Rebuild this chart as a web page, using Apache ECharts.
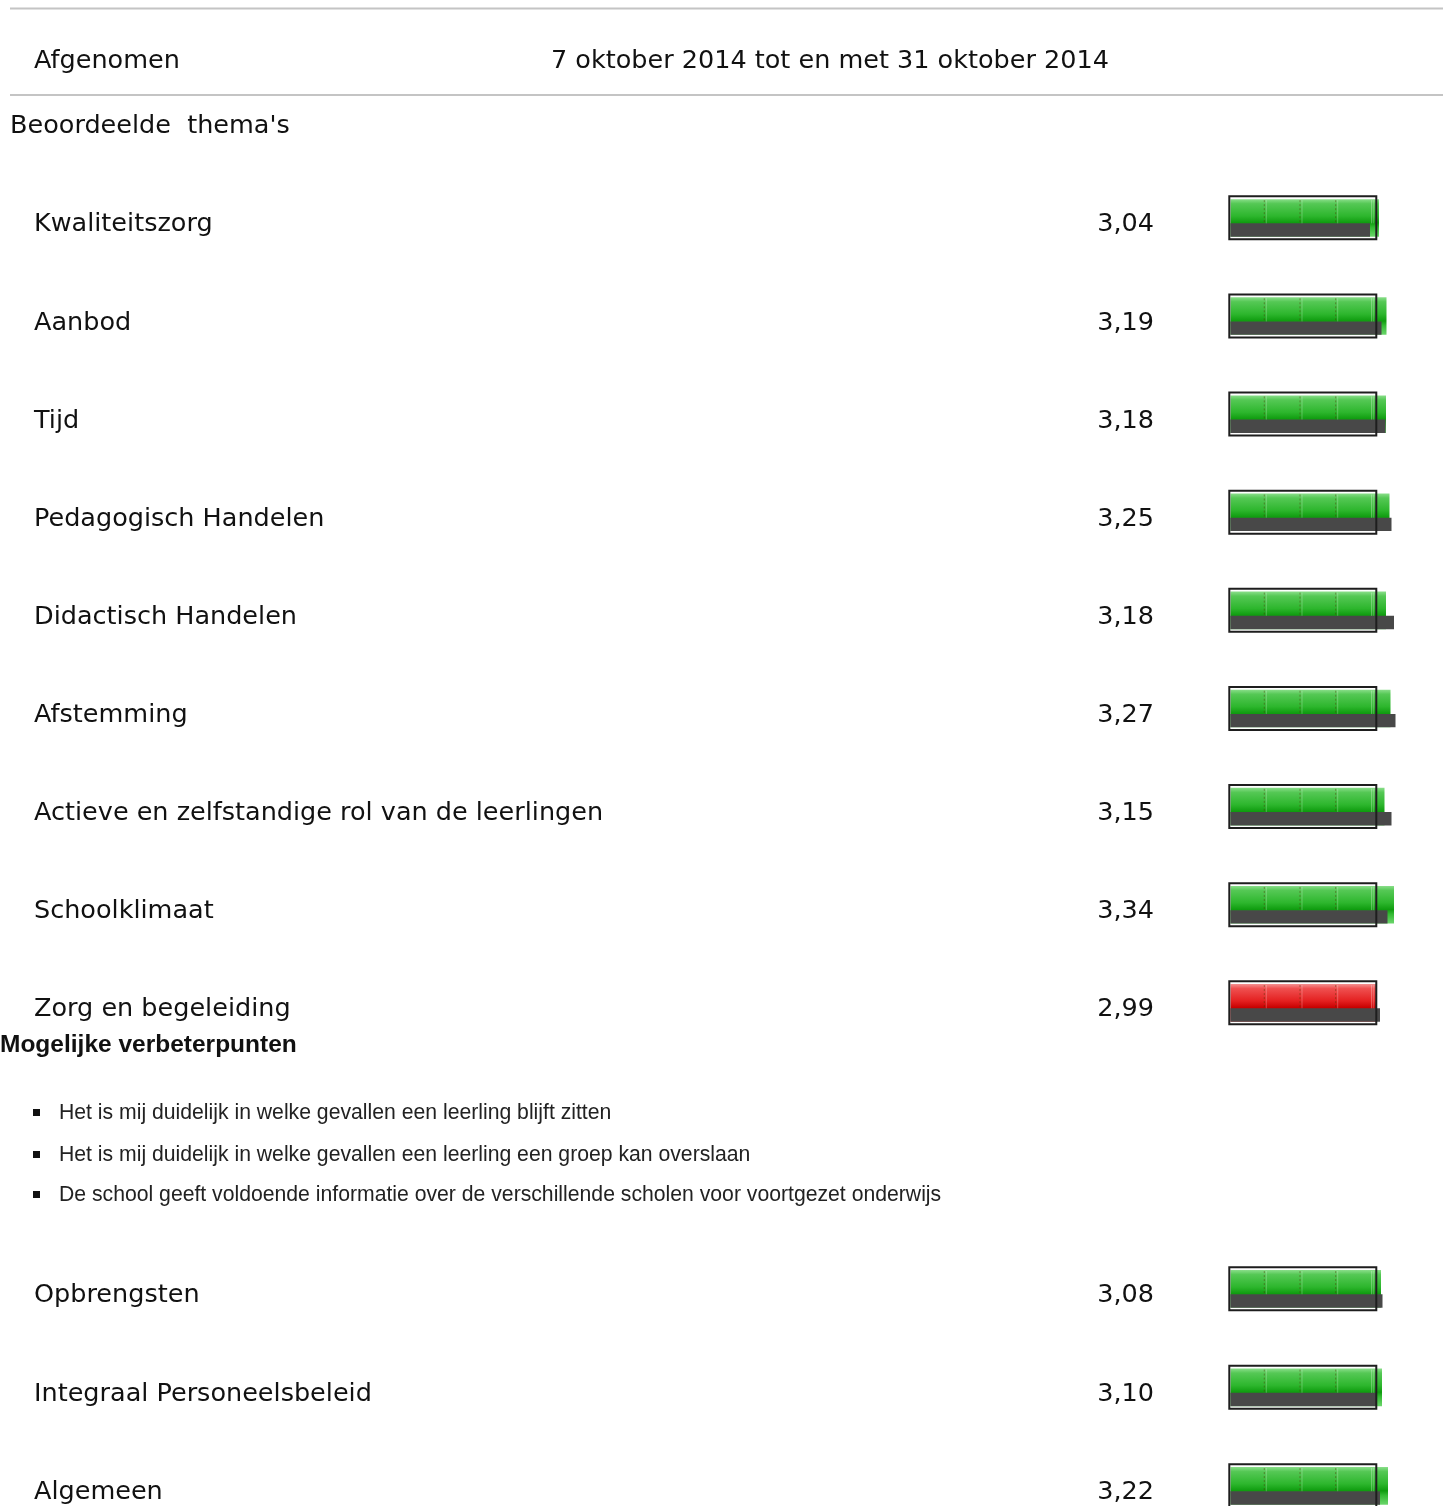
<!DOCTYPE html>
<html><head><meta charset="utf-8">
<script src="https://cdn.jsdelivr.net/npm/echarts@6/dist/echarts.min.js"></script>
<style>html,body{margin:0;padding:0;background:#fff}#c{width:1451px;height:1506px}</style>
</head><body><div id="c"></div>
<script>
// ---- data ----
const themesTop = ['Kwaliteitszorg','Aanbod','Tijd','Pedagogisch Handelen','Didactisch Handelen','Afstemming','Actieve en zelfstandige rol van de leerlingen','Schoolklimaat','Zorg en begeleiding'];
const scoresTop = [3.04,3.19,3.18,3.25,3.18,3.27,3.15,3.34,2.99];
const benchmarkTop = [2.86,3.09,3.17,3.29,3.34,3.37,3.29,3.21,3.06];
const themesBottom = ['Opbrengsten','Integraal Personeelsbeleid','Algemeen'];
const scoresBottom = [3.08,3.10,3.22];
const benchmarkBottom = [3.11,2.99,3.06];
const improvementPoints = [
  'Het is mij duidelijk in welke gevallen een leerling blijft zitten',
  'Het is mij duidelijk in welke gevallen een leerling een groep kan overslaan',
  'De school geeft voldoende informatie over de verschillende scholen voor voortgezet onderwijs'
];
const headerLabel = 'Afgenomen';
const headerPeriod = '7 oktober 2014 tot en met 31 oktober 2014';
const sectionTitle = "Beoordeelde  thema's";
const improvementTitle = 'Mogelijke verbeterpunten';
const frameMax = 3;
const redThreshold = 3.0;
const axisMax = 4;

// ---- styling ----
const FONT = 'DejaVu Sans';
const FS = 25.5;
const fmt = v => v.toFixed(2).replace('.', ',');

const greenFill = {type:'linear',x:0,y:0,x2:0,y2:1,colorStops:[
  {offset:0,color:'#8ade8a'},{offset:0.12,color:'#55c855'},{offset:0.45,color:'#2db62d'},
  {offset:0.63,color:'#0f9c0f'},{offset:0.75,color:'#33ba33'},{offset:1,color:'#6cd66c'}]};
const redFill = {type:'linear',x:0,y:0,x2:0,y2:1,colorStops:[
  {offset:0,color:'#f49090'},{offset:0.12,color:'#ef5050'},{offset:0.45,color:'#e42020'},
  {offset:0.63,color:'#c80000'},{offset:1,color:'#e04545'}]};

const BAR_SHIFT = -7; // bars sit slightly above the text line

function renderBar(params, api){
  const idx = api.value(2);
  const score = api.value(0), bench = api.value(1);
  const p0 = api.coord([0, idx]);
  const pS = api.coord([score, idx]);
  const pB = api.coord([bench, idx]);
  const pF = api.coord([frameMax, idx]);
  const cy = p0[1] + BAR_SHIFT, x0 = p0[0];
  const red = score < redThreshold;
  const L = x0 + 1.3, R = pF[0] + 0.3, T = cy - 22.5, B = cy + 22.5;
  const bx = x0 + 3.5;
  const gTop = cy - 18.7, gBot = cy + 18.9, grayTop = cy + 5.5;
  const children = [
    {type:'rect', shape:{x:L, y:T, width:R-L, height:B-T}, style:{fill:'#fff'}},
    {type:'rect', shape:{x:bx, y:gTop, width:pS[0]-bx, height:gBot-gTop}, style:{fill: red ? redFill : greenFill}},
    {type:'rect', shape:{x:bx, y:grayTop, width:pB[0]-bx, height:gBot-grayTop}, style:{fill:'#484848'}}
  ];
  const seps = [37.3, 73, 108.7, 144.7];
  seps.forEach((o, i) => {
    const sx = x0 + o;
    if (sx < pS[0]) {
      children.push({type:'line', shape:{x1:sx, y1:gTop+1, x2:sx, y2:grayTop},
        style:{stroke: i < 3 ? 'rgba(80,50,0,0.45)' : 'rgba(255,255,255,0.35)', lineWidth:1, lineDash: i < 3 ? [2,2] : null}});
      children.push({type:'line', shape:{x1:sx+2, y1:gTop+1, x2:sx+2, y2:grayTop},
        style:{stroke:'rgba(255,255,255,0.25)', lineWidth:1}});
    }
  });
  children.push({type:'rect', shape:{x:L+1, y:T+1, width:R-L-2, height:B-T-2}, style:{fill:null, stroke:'#1e1e1e', lineWidth:2}});
  return {type:'group', children};
}

function nameAxis(grid, data){
  return {type:'category', gridIndex:grid, position:'left', offset:0, data, inverse:true,
    axisLine:{show:false}, axisTick:{show:false}, splitLine:{show:false},
    axisLabel:{interval:0, margin:1193, align:'left', fontFamily:FONT, fontSize:FS, color:'#111'}};
}
function valueAxis(grid, data){
  return {type:'category', gridIndex:grid, position:'left', offset:0, data: data.map(fmt), inverse:true,
    axisLine:{show:false}, axisTick:{show:false}, splitLine:{show:false},
    axisLabel:{interval:0, margin:73, align:'right', fontFamily:FONT, fontSize:FS, color:'#111'}};
}
function xAx(grid){
  return {type:'value', gridIndex:grid, min:0, max:axisMax, show:false, splitLine:{show:false}};
}

const graphics = [
  {type:'line', shape:{x1:10,y1:8.5,x2:1443,y2:8.5}, style:{stroke:'#c4c4c4', lineWidth:2}},
  {type:'line', shape:{x1:10,y1:95,x2:1443,y2:95}, style:{stroke:'#c4c4c4', lineWidth:2}},
  {type:'text', x:34, y:61, style:{text:headerLabel, fontFamily:FONT, fontSize:FS, fill:'#111', verticalAlign:'middle'}},
  {type:'text', x:551, y:61, style:{text:headerPeriod, fontFamily:FONT, fontSize:FS, fill:'#111', verticalAlign:'middle'}},
  {type:'text', x:10, y:126, style:{text:sectionTitle, fontFamily:FONT, fontSize:FS, fill:'#111', verticalAlign:'middle'}},
  {type:'text', x:0, y:1045, style:{text:improvementTitle, fontFamily:'Liberation Sans', fontWeight:'bold', fontSize:24.5, fill:'#111', verticalAlign:'middle'}}
];
const bulletY = [1113, 1155, 1195];
improvementPoints.forEach((t, i) => {
  graphics.push({type:'rect', shape:{x:33, y:bulletY[i]-4, width:7, height:7}, style:{fill:'#111'}});
  graphics.push({type:'text', x:59, y:bulletY[i], style:{text:t, fontFamily:'Liberation Sans', fontSize:21.2, fill:'#222', verticalAlign:'middle'}});
});

const chart = echarts.init(document.getElementById('c'), null, {renderer:'canvas'});
chart.setOption({
  backgroundColor:'#fff',
  animation:false,
  grid:[
    {left:1227, width:200, top:175.8, height:883, outerBoundsMode:'none', containLabel:false},
    {left:1227, width:200, top:1246.5, height:295.5, outerBoundsMode:'none', containLabel:false}
  ],
  xAxis:[xAx(0), xAx(1)],
  yAxis:[nameAxis(0, themesTop), valueAxis(0, scoresTop), nameAxis(1, themesBottom), valueAxis(1, scoresBottom)],
  series:[
    {type:'custom', xAxisIndex:0, yAxisIndex:0, renderItem:renderBar, encode:{x:0, y:2}, clip:false,
      data: scoresTop.map((v,i)=>[v, benchmarkTop[i], i])},
    {type:'custom', xAxisIndex:1, yAxisIndex:2, renderItem:renderBar, encode:{x:0, y:2}, clip:false,
      data: scoresBottom.map((v,i)=>[v, benchmarkBottom[i], i])}
  ],
  graphic: graphics
});
</script></body></html>
